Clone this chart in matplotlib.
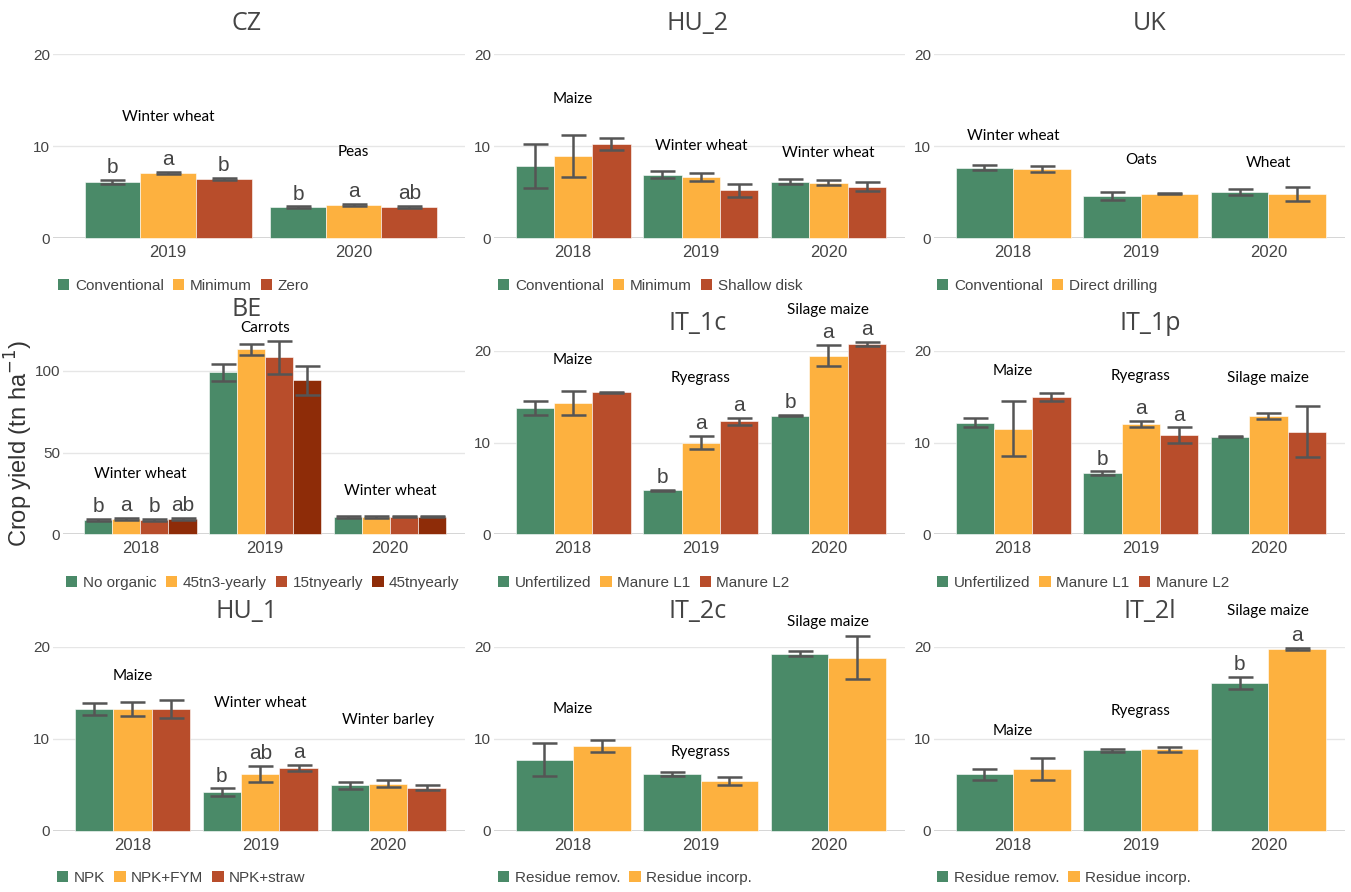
import matplotlib
matplotlib.use("Agg")
import matplotlib.pyplot as plt
from matplotlib.patches import Patch
import numpy as np

W, H = 1351, 892
GREEN, ORANGE, RUST, BROWN = "#4A8A68", "#FDB13F", "#B84D2B", "#8E2C08"
GREY = "#444444"
ERRC = "#555555"

years3 = ["2018", "2019", "2020"]

# CZ
cz_years = ["2019", "2020"]
cz_names = ["Conventional", "Minimum", "Zero"]
cz_vals = [[6.1, 3.33], [7.07, 3.59], [6.38, 3.41]]
cz_err = [[0.2, 0.1], [0.15, 0.1], [0.12, 0.1]]
cz_letters = [["b", "b"], ["a", "a"], ["b", "ab"]]
cz_crops = ["Winter wheat", "Peas"]
cz_crop_y = [13.2, 9.3]

# HU_2
hu2_names = ["Conventional", "Minimum", "Shallow disk"]
hu2_vals = [[7.79, 6.88, 6.12], [8.91, 6.63, 6.01], [10.18, 5.18, 5.58]]
hu2_err = [[2.4, 0.35, 0.25], [2.3, 0.43, 0.3], [0.65, 0.67, 0.5]]
hu2_crops = ["Maize", "Winter wheat", "Winter wheat"]
hu2_crop_y = [15.1, 10.0, 9.2]

# UK
uk_names = ["Conventional", "Direct drilling"]
uk_vals = [[7.64, 4.57, 5.0], [7.5, 4.82, 4.82]]
uk_err = [[0.3, 0.47, 0.37], [0.33, 0.05, 0.75]]
uk_crops = ["Winter wheat", "Oats", "Wheat"]
uk_crop_y = [11.1, 8.44, 8.1]

# BE
be_names = ["No organic", "45tn3-yearly", "15tnyearly", "45tnyearly"]
be_vals = [[8.76, 99.2, 10.4], [9.37, 113.4, 10.6], [8.76, 108.4, 10.6], [9.16, 94.3, 10.6]]
be_err = [[0.5, 5.3, 0.4], [0.5, 3.3, 0.5], [0.5, 10.0, 0.4], [0.5, 8.8, 0.4]]
be_letters = [["b", "", ""], ["a", "", ""], ["b", "", ""], ["ab", "", ""]]
be_crops = ["Winter wheat", "Carrots", "Winter wheat"]
be_crop_y = [36.9, 126.5, 26.1]

# IT_1c
it1c_names = ["Unfertilized", "Manure L1", "Manure L2"]
it1c_vals = [[13.75, 4.76, 12.95], [14.36, 10.0, 19.5], [15.5, 12.3, 20.76]]
it1c_err = [[0.75, 0.07, 0.05], [1.3, 0.7, 1.18], [0.05, 0.42, 0.22]]
it1c_letters = [["", "b", "b"], ["", "a", "a"], ["", "a", "a"]]
it1c_crops = ["Maize", "Ryegrass", "Silage maize"]
it1c_crop_y = [19.0, 17.1, 24.5]

# IT_1p
it1p_names = ["Unfertilized", "Manure L1", "Manure L2"]
it1p_vals = [[12.18, 6.65, 10.65], [11.53, 12.0, 12.9], [14.95, 10.8, 11.2]]
it1p_err = [[0.45, 0.2, 0.05], [2.96, 0.32, 0.35], [0.46, 0.85, 2.8]]
it1p_letters = [["", "b", ""], ["", "a", ""], ["", "a", ""]]
it1p_crops = ["Maize", "Ryegrass", "Silage maize"]
it1p_crop_y = [17.8, 17.3, 17.1]

# HU_1
hu1_names = ["NPK", "NPK+FYM", "NPK+straw"]
hu1_vals = [[13.24, 4.22, 4.98], [13.24, 6.18, 5.16], [13.24, 6.87, 4.69]]
hu1_err = [[0.65, 0.4, 0.4], [0.78, 0.88, 0.33], [1.0, 0.3, 0.28]]
hu1_letters = [["", "b", ""], ["", "ab", ""], ["", "a", ""]]
hu1_crops = ["Maize", "Winter wheat", "Winter barley"]
hu1_crop_y = [16.9, 13.96, 12.07]

# IT_2c
it2c_names = ["Residue remov.", "Residue incorp."]
it2c_vals = [[7.75, 6.15, 19.27], [9.24, 5.45, 18.84]]
it2c_err = [[1.8, 0.22, 0.3], [0.6, 0.4, 2.36]]
it2c_crops = ["Maize", "Ryegrass", "Silage maize"]
it2c_crop_y = [13.3, 8.55, 22.7]

# IT_2l
it2l_names = ["Residue remov.", "Residue incorp."]
it2l_vals = [[6.15, 8.76, 16.1], [6.69, 8.87, 19.78]]
it2l_err = [[0.6, 0.2, 0.65], [1.2, 0.25, 0.1]]
it2l_letters = [["", "", "b"], ["", "", "a"]]
it2l_crops = ["Maize", "Ryegrass", "Silage maize"]
it2l_crop_y = [10.9, 13.0, 23.9]

plt.rcParams["font.family"] = ["Liberation Sans", "DejaVu Sans"]
fig = plt.figure(figsize=(W / 100, H / 100), dpi=100)
fig.patch.set_facecolor("white")

cols = [(53, 465), (494, 905), (934, 1345)]
rows = [(238, 54), (534, 351), (831, 647)]


def make_ax(col, row, x0=None):
    x0 = cols[col][0] if x0 is None else x0
    x1 = cols[col][1]
    yb, yt = rows[row]
    return fig.add_axes([x0 / W, 1 - yb / H, (x1 - x0) / W, (yb - yt) / H])


def panel(ax, title, tpos, years, names, vals, errs, letters, crops, crop_y,
          ymax, yticks, leg_x, leg_y, colors=(GREEN, ORANGE, RUST, BROWN)):
    n = len(names)
    w = 0.9 / n
    x = np.arange(len(years))
    for i in range(n):
        xs = x - 0.45 + w * (i + 0.5)
        ax.bar(xs, vals[i], w, color=colors[i], zorder=2, clip_on=False,
               edgecolor="white", linewidth=0.4)
        eb = ax.errorbar(xs, vals[i], yerr=errs[i], fmt="none", ecolor=ERRC,
                         elinewidth=1.8, capsize=9, capthick=1.8, zorder=3)
        for art in eb.get_children():
            art.set_clip_on(False)
        if letters:
            for j in range(len(years)):
                if letters[i][j]:
                    ax.annotate(letters[i][j], (xs[j], vals[i][j] + errs[i][j]),
                                xytext=(0, 2), textcoords="offset points",
                                ha="center", va="bottom", fontsize=15,
                                color=GREY, annotation_clip=False)
    for j, c in enumerate(crops):
        ax.text(j, crop_y[j], c, ha="center", va="center", fontsize=11,
                family=["Lato", "DejaVu Sans"], color="black")
    ax.set_xlim(-0.62, len(years) - 0.4)
    ax.set_ylim(0, ymax)
    ax.set_xticks(x)
    ax.set_xticklabels(years, fontsize=12, color=GREY)
    ax.set_yticks(yticks)
    ax.set_yticklabels([str(t) for t in yticks], fontsize=11, color=GREY)
    ax.tick_params(length=0, pad=2)
    ax.tick_params(axis="x", pad=5)
    for s in ax.spines.values():
        s.set_visible(False)
    for t in yticks[1:]:
        ax.axhline(t, color="#E6E6E6", lw=1, zorder=0)
    ax.axhline(0, color="#D2D2D2", lw=2, zorder=1)
    fig.text(tpos[0] / W, 1 - tpos[1] / H, title, ha="center", va="center",
             fontsize=18, color=GREY, family=["Open Sans", "DejaVu Sans"])
    handles = [Patch(facecolor=colors[i], label=names[i]) for i in range(n)]
    fig.legend(handles=handles, loc="center left",
               bbox_to_anchor=(leg_x / W, 1 - leg_y / H), ncol=n,
               frameon=False, fontsize=11, labelcolor=GREY, handlelength=0.75,
               handleheight=0.75, handletextpad=0.35, columnspacing=0.6,
               borderpad=0, borderaxespad=0)


t20 = [0, 10, 20]
panel(make_ax(0, 0), "CZ", (247, 24), cz_years, cz_names, cz_vals, cz_err,
      cz_letters, cz_crops, cz_crop_y, 20, t20, 58, 286)
panel(make_ax(1, 0), "HU_2", (698, 24), years3, hu2_names, hu2_vals, hu2_err,
      None, hu2_crops, hu2_crop_y, 20, t20, 498, 286)
panel(make_ax(2, 0), "UK", (1150, 24), years3, uk_names, uk_vals, uk_err,
      None, uk_crops, uk_crop_y, 20, t20, 937, 286)

panel(make_ax(0, 1, x0=63), "BE", (247, 310), years3, be_names, be_vals, be_err,
      be_letters, be_crops, be_crop_y, 100 * 183 / 163, [0, 50, 100], 66, 583)
panel(make_ax(1, 1), "IT_1c", (698, 323), years3, it1c_names, it1c_vals,
      it1c_err, it1c_letters, it1c_crops, it1c_crop_y, 20, t20, 498, 583)
panel(make_ax(2, 1), "IT_1p", (1150, 323), years3, it1p_names, it1p_vals,
      it1p_err, it1p_letters, it1p_crops, it1p_crop_y, 20, t20, 937, 583)

panel(make_ax(0, 2), "HU_1", (247, 612), years3, hu1_names, hu1_vals, hu1_err,
      hu1_letters, hu1_crops, hu1_crop_y, 20, t20, 57, 878)
panel(make_ax(1, 2), "IT_2c", (698, 612), years3, it2c_names, it2c_vals,
      it2c_err, None, it2c_crops, it2c_crop_y, 20, t20, 498, 878)
panel(make_ax(2, 2), "IT_2l", (1150, 612), years3, it2l_names, it2l_vals,
      it2l_err, it2l_letters, it2l_crops, it2l_crop_y, 20, t20, 937, 878)

fig.text(19 / W, 1 - 443 / H, "Crop yield (tn ha$^{-1}$)", rotation=90,
         ha="center", va="center", fontsize=17, color="#333333")

fig.savefig("out.png", dpi=100, facecolor="white")
